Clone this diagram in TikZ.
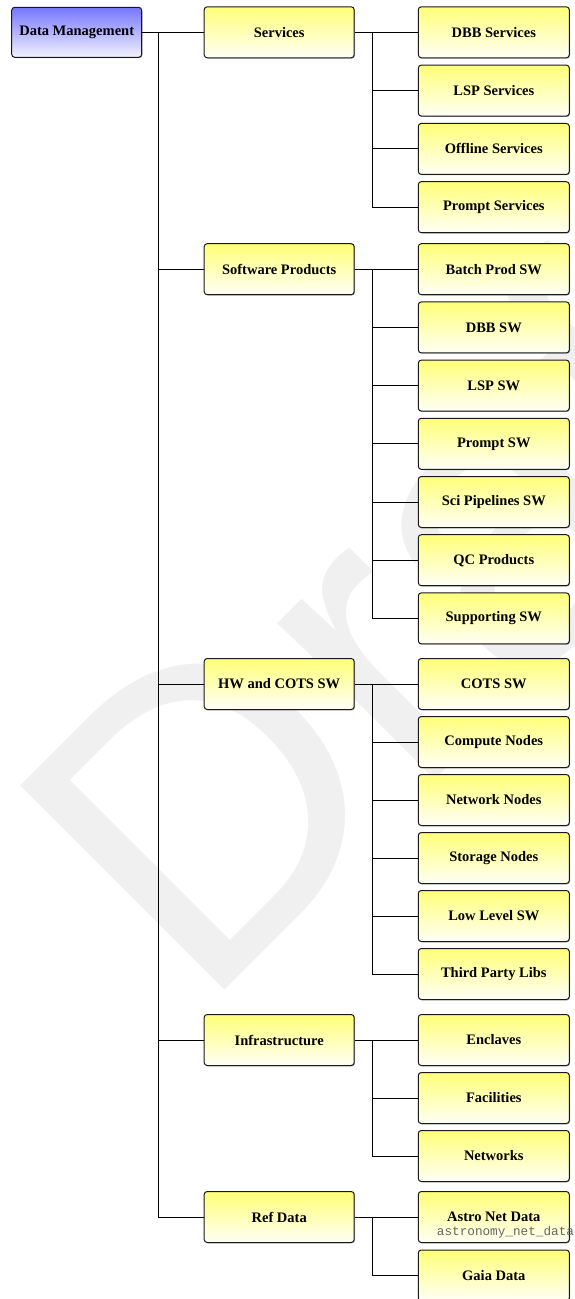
\documentclass[tikz,border=0pt]{standalone}
\usepackage{fontspec}
\setmainfont{Liberation Serif}
\newfontfamily\wmfont{Liberation Sans}
\newfontfamily\codefont{Liberation Mono}
\usetikzlibrary{shadows}
\definecolor{ytop}{RGB}{255,255,120}
\definecolor{ybot}{RGB}{255,255,246}
\definecolor{btop}{RGB}{118,118,255}
\definecolor{bbot}{RGB}{242,242,255}
\definecolor{wmgray}{RGB}{240,240,240}
\tikzset{
  pbox/.style={draw=black!90, line width=1pt, rounded corners=3pt,
    minimum width=150pt, minimum height=51pt, inner sep=0pt,
    top color=ytop, bottom color=ybot,
    font=\bfseries\fontsize{14.5}{16}\selectfont,
    drop shadow={shadow xshift=0.8pt, shadow yshift=-0.8pt, fill=black, opacity=0.3}},
  lvtwo/.style={pbox, minimum width=151pt},
  rootbox/.style={pbox, minimum width=130pt, minimum height=50pt, top color=btop, bottom color=bbot},
  conn/.style={line width=0.9pt, draw=black}
}
\begin{document}
\begin{tikzpicture}[x=1pt,y=-1pt]
\useasboundingbox (0,0) rectangle (575,1299);
% watermark
\node[anchor=base west, rotate=45, text=wmgray, inner sep=0pt,
  font=\wmfont\fontsize{420}{420}\selectfont] (wm) at (200,1015) {Draft};

% root
\node[rootbox] (root) at (76.7,32.3) {Data Management};

% level 1
\node[pbox] (services) at (279.2,32.3) {Services};
\node[pbox] (software) at (279.2,269.2) {Software Products};
\node[pbox] (hw) at (279.2,684) {HW and COTS SW};
\node[pbox] (infra) at (279.2,1040) {Infrastructure};
\node[pbox] (ref) at (279.2,1217) {Ref Data};

% level 2
\node[lvtwo] (dbbs) at (493.8,32.3) {DBB Services};
\node[lvtwo] (lsps) at (493.8,90.6) {LSP Services};
\node[lvtwo] (offs) at (493.8,148.9) {Offline Services};
\node[lvtwo] (proms) at (493.8,207.2) {Prompt Services};

\node[lvtwo] (batch) at (493.8,269.2) {Batch Prod SW};
\node[lvtwo] (dbbsw) at (493.8,327.4) {DBB SW};
\node[lvtwo] (lspsw) at (493.8,385.6) {LSP SW};
\node[lvtwo] (promsw) at (493.8,443.8) {Prompt SW};
\node[lvtwo] (scisw) at (493.8,502.0) {Sci Pipelines SW};
\node[lvtwo] (qc) at (493.8,560.2) {QC Products};
\node[lvtwo] (supsw) at (493.8,618.4) {Supporting SW};

\node[lvtwo] (cots) at (493.8,684) {COTS SW};
\node[lvtwo] (compute) at (493.8,742) {Compute Nodes};
\node[lvtwo] (network) at (493.8,800) {Network Nodes};
\node[lvtwo] (storage) at (493.8,858) {Storage Nodes};
\node[lvtwo] (lowlevel) at (493.8,916) {Low Level SW};
\node[lvtwo] (thirdp) at (493.8,974) {Third Party Libs};

\node[lvtwo] (enclaves) at (493.8,1040) {Enclaves};
\node[lvtwo] (facilities) at (493.8,1098) {Facilities};
\node[lvtwo] (networks) at (493.8,1156) {Networks};

\node[lvtwo] (astro) at (493.8,1217) {Astro Net Data};
\node[lvtwo] (gaia) at (493.8,1275.5) {Gaia Data};
\node[anchor=west, inner sep=0pt, text=black!60, font=\codefont\fontsize{12.7}{14}\selectfont]
  (astrocode) at (436.7,1232) {astronomy\_net\_data};

% trunks
\coordinate (t0) at (158.3,32.3);
\coordinate (tserv) at (372.3,32.3);
\coordinate (tsoft) at (372.3,269.2);
\coordinate (thw) at (372.3,684);
\coordinate (tinfra) at (372.3,1040);
\coordinate (tref) at (372.3,1217);

\draw[conn] (root.east) -- (t0) |- (services.west);
\foreach \n in {software,hw,infra,ref} \draw[conn] (t0) |- (\n.west);

\draw[conn] (services.east) -- (tserv);
\foreach \n in {dbbs,lsps,offs,proms} \draw[conn] (tserv) |- (\n.west);

\draw[conn] (software.east) -- (tsoft);
\foreach \n in {batch,dbbsw,lspsw,promsw,scisw,qc,supsw} \draw[conn] (tsoft) |- (\n.west);

\draw[conn] (hw.east) -- (thw);
\foreach \n in {cots,compute,network,storage,lowlevel,thirdp} \draw[conn] (thw) |- (\n.west);

\draw[conn] (infra.east) -- (tinfra);
\foreach \n in {enclaves,facilities,networks} \draw[conn] (tinfra) |- (\n.west);

\draw[conn] (ref.east) -- (tref);
\foreach \n in {astro,gaia} \draw[conn] (tref) |- (\n.west);
\end{tikzpicture}
\end{document}
